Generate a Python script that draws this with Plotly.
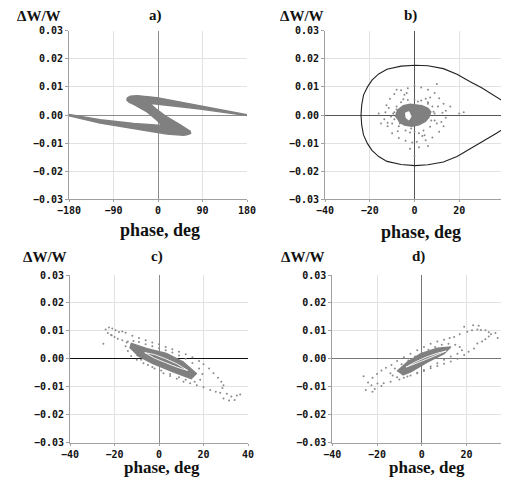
import plotly.graph_objects as go

# the page adds an 8 px body margin, so the figure is sized to the remaining window
OFF = 8
W, H = 509 - OFF, 477 - OFF

# ---------------- data ----------------
# panel a: S-shaped dense band (outline), phase in deg, dW/W
a_band_phase = [-180, -117, -49, 0, 8, -2, -22, -49, -58, -63, -62, -56, -42, -2, 92, 180,
                180, 85, -9, -16, -5, 18, 45, 58, 65, 66, 60, 52, 18, -16, -117, -180]
a_band_dw = [0.0002, -0.0017, -0.0030, -0.0036, -0.0037, -0.0019, 0.0011, 0.0038,
             0.0045, 0.0053, 0.0061, 0.0067, 0.0069, 0.0062, 0.0030, 0.0001, -0.0002,
             0.0021, 0.0040, 0.0040, 0.0023, -0.0007, -0.0035, -0.0048, -0.0058,
             -0.0065, -0.0070, -0.0072, -0.0068, -0.0058, -0.0029, -0.0003]

# panel b: separatrix
b_sep_phase = [40.5, 37, 33.8, 30, 24.9, 19, 12.9, 6, 0.3, -6, -12.3, -16, -19, -21,
               -22.8, -23.6, -23.9, -23.6, -22.8, -21, -19, -16, -12.3, -6, 0.3, 6,
               12.9, 19, 24.9, 30, 33.8, 37, 40.5]
b_sep_dw = [0.0045, 0.0063, 0.0080, 0.0097, 0.0118, 0.0145, 0.0165, 0.0175, 0.0177,
            0.0174, 0.0163, 0.0146, 0.0124, 0.0100, 0.0071, 0.0035, 0.0, -0.0035,
            -0.0071, -0.0102, -0.0126, -0.0148, -0.0165, -0.0176, -0.0180, -0.0177,
            -0.0167, -0.0148, -0.0120, -0.0097, -0.0079, -0.0063, -0.0045]
# panel b: dense core outline and white hole
b_core_phase = [-8.6, -7.5, -5, -1.9, 3.3, 6, 7.3, 6.5, 4.8, 2, -1.2, -4.5, -7.1]
b_core_dw = [-0.0006, 0.0018, 0.0033, 0.0038, 0.0033, 0.0024, 0.0011, -0.0008,
             -0.0023, -0.0035, -0.0040, -0.0036, -0.0023]
b_hole_phase = [-4, -2.5, -1.5, -2.5, -3.8, -4]
b_hole_dw = [0.0008, 0.0012, -0.0005, -0.0018, -0.0010, 0.0008]
# panel b: sparse particles
b_pts_phase = [0, 3, -3, 6, -6, 9, -9, 11, -11, 13, -12.5, 14, -13, 14, -13.5, 13, -12,
               11, -10, 8, -7, 5, -4, 1, -1, 2, -2, 6, 0, 20, 22, -16, 10, -8, 16, -15,
               0, 3, -3, 6, -6, 8, -8, 9, -9, 9, -9, 7, -7, 4, -4, 0, 2, -2, 10, -10, 5, -5,
               -9.5, 8.5, -6.5, 7.5, -8, 6, 1.5, -1.5,
               -10.5, 10.5, -11.5, 12, -7.5, 7, -4.5, 4.5, 12.5, -12, 3.5, -3.5]
b_pts_dw = [0.0105, 0.0098, 0.0095, 0.0090, 0.0088, 0.0078, 0.0075, 0.0060, 0.0058,
            0.0040, 0.0035, 0.0015, 0.0010, -0.0010, -0.0015, -0.0040, -0.0040, -0.0060,
            -0.0065, -0.0080, -0.0082, -0.0090, -0.0092, -0.0095, -0.0098, -0.0115,
            -0.0120, -0.0110, -0.0145, 0.0005, 0.0010, 0.0005, 0.0110, 0.0090, 0.0030,
            -0.0030, 0.0055, 0.0052, 0.0053, 0.0045, 0.0045, 0.0030, 0.0030, 0.0005,
            0.0010, -0.0020, -0.0015, -0.0042, -0.0040, -0.0055, -0.0055, -0.0060,
            -0.0065, -0.0062, -0.0030, -0.0030, 0.0058, 0.0056,
            0.0005, 0.0012, -0.0030, -0.0020, 0.0020, 0.0040, 0.0048, -0.0048,
            -0.0005, 0.0030, 0.0025, -0.0025, -0.0058, 0.0062, 0.0072, -0.0072,
            0.0008, -0.0028, -0.0075, 0.0078]

# panel c: dense core, inner white loop, sparse particles
c_core_phase = [-13.1, -12.4, -5.7, 3.3, 10.8, 16.8, 14.5, 6.3, -2.7, -10.1]
c_core_dw = [0.0037, 0.0055, 0.0037, 0.0019, -0.0011, -0.0053, -0.0071, -0.0047,
             -0.0017, 0.0013]
c_hole_phase = [-6.4, -2, 3, 8, 12.9, 8, 3, -2, -6.4]
c_hole_dw = [0.0022, 0.0015, 0.0, -0.0018, -0.0042, -0.0030, -0.0014, 0.0002, 0.0022]
c_pts_phase = [-24, -22.5, -21, -19.5, -18, -16.5, -15, -23, -21.5, -20, -18.5, -16.5,
               -14.5, -12.5, -11, -12, -9, -6, -3, 0, 3, 6, 9, 12, 15, 18, 20, 22.5, 24.5,
               26.5, 28, 29, 28.5, -8, -5, -2, 2, 5, 8, 11, 14, 17, 20, 23, 25.5, 27.5,
               30.5, 32.5, 35, 36.5, 34, 31.5, 29, -14, -11.5, -9, -6, -3, 0, 3, 6, 9, 12,
               15, 18, 19.5, 18.5, 16, 12, 9, 5, 1, -3, -7, -10, -12.5, -14, -15, -25,
               -21.3]
c_pts_dw = [0.0105, 0.0112, 0.0108, 0.0102, 0.0096, 0.0098, 0.0093, 0.0092, 0.0085,
            0.0078, 0.0072, 0.0066, 0.0058, 0.0048, 0.0036, 0.0082, 0.0074, 0.0066,
            0.0058, 0.0052, 0.0042, 0.0034, 0.0025, 0.0016, 0.0005, -0.0008, -0.0020,
            -0.0035, -0.0052, -0.0068, -0.0082, -0.0095, -0.0105, -0.0004, -0.0022,
            -0.0035, -0.0052, -0.0062, -0.0072, -0.0082, -0.0088, -0.0095, -0.0102,
            -0.0112, -0.0118, -0.0122, -0.0125, -0.0135, -0.0132, -0.0128, -0.0148,
            -0.0150, -0.0142, 0.0062, 0.0064, 0.0060, 0.0052, 0.0045, 0.0038, 0.0030,
            0.0022, 0.0012, 0.0, -0.0015, -0.0035, -0.0055, -0.0075, -0.0082, -0.0075,
            -0.0066, -0.0055, -0.0042, -0.0030, -0.0016, -0.0004, 0.0010, 0.0028,
            0.0045, 0.0054, 0.0084]

# panel d: dense core, inner white loop, sparse particles
d_core_phase = [-11, -6.4, -0.4, 7, 13, 10, 2.5, -4.9, -8.6]
d_core_dw = [-0.0045, -0.0012, 0.0018, 0.0038, 0.0042, 0.0018, -0.0012, -0.0047, -0.0059]
d_hole_phase = [-7, -3, 2, 7, 11, 7, 2, -3, -7]
d_hole_dw = [-0.0030, -0.0012, 0.0006, 0.0020, 0.0028, 0.0014, -0.0002, -0.0018, -0.0030]
d_pts_phase = [-22, -20, -18, -16, -13.5, -11, -8, -5, -2, 1, 4, 7, 10, 12.5, 14.5, 17,
               20.4, 22.5, 24.9, 26.5, 28.5, 30, 31, 30, 28.5, 27, 24.9, 33, 36.8, 36.5,
               34, 23, 19, 25.5, -24, -22.5, -21, -19.8, -17, -13.9, -10, -6.4, -2, 1, 4,
               7, 10, 13, 16, 19, 21, 23.4, -26, -25, -22, -18, -14, -12, -9, -6, -3, 0,
               3, 6, 9, 12, 15, 17, 18, 16, 13, 10, 7, 4, 1, -2, -5, -8, -11, -13]
d_pts_dw = [-0.0068, -0.0055, -0.0042, -0.0032, -0.0022, -0.0008, 0.0005, 0.0018,
            0.0030, 0.0042, 0.0054, 0.0062, 0.0068, 0.0074, 0.0078, 0.0088, 0.0097,
            0.0102, 0.0105, 0.0103, 0.0102, 0.0095, 0.0088, 0.0080, 0.0070, 0.0062,
            0.0055, 0.0092, 0.0085, 0.0068, 0.0074, 0.0120, 0.0115, 0.0118, -0.0085,
            -0.0095, -0.0108, -0.0089, -0.0088, -0.0082, -0.0074, -0.0064, -0.0052,
            -0.0044, -0.0034, -0.0026, -0.0018, -0.0010, 0.0, 0.0013, 0.0025, 0.0037,
            -0.0063, -0.0112, -0.0118, -0.0098, -0.0052, -0.0035, -0.0020, -0.0006,
            0.0008, 0.0020, 0.0032, 0.0042, 0.0050, 0.0054, 0.0050, 0.0042, 0.0030,
            0.0018, 0.0008, -0.0004, -0.0016, -0.0028, -0.0040, -0.0050, -0.0060,
            -0.0068, -0.0066, -0.0060]

y_ticks = [-0.03, -0.02, -0.01, 0.0, 0.01, 0.02, 0.03]
y_ticktext = ["\u22120.03", "\u22120.02", "\u22120.01", "0.00", "0.01", "0.02", "0.03"]
xa_ticks = [-180, -90, 0, 90, 180]
xb_ticks = [-40, -20, 0, 20, 40]

# ---------------- figure ----------------
GRAY = "#808080"
fig = go.Figure()


def core(xs, ys, ax):
    fig.add_trace(go.Scatter(x=xs, y=ys, xaxis=ax[0], yaxis=ax[1], mode="lines",
                             fill="toself", fillcolor=GRAY, line=dict(width=1.4, color=GRAY),
                             hoverinfo="skip", showlegend=False))


def hole(xs, ys, ax, fill=False):
    fig.add_trace(go.Scatter(x=xs, y=ys, xaxis=ax[0], yaxis=ax[1], mode="lines",
                             fill="toself" if fill else None, fillcolor="white",
                             line=dict(width=0.9, color="white"),
                             hoverinfo="skip", showlegend=False))


def pts(xs, ys, ax):
    fig.add_trace(go.Scatter(x=xs, y=ys, xaxis=ax[0], yaxis=ax[1], mode="markers",
                             marker=dict(size=2, color="#8a8a8a", line=dict(width=0)),
                             hoverinfo="skip", showlegend=False))


core(a_band_phase, a_band_dw, ("x", "y"))

fig.add_trace(go.Scatter(x=b_sep_phase, y=b_sep_dw, xaxis="x2", yaxis="y2", mode="lines",
                         line=dict(width=1.1, color="#222222"), showlegend=False))
pts(b_pts_phase, b_pts_dw, ("x2", "y2"))
core(b_core_phase, b_core_dw, ("x2", "y2"))
hole(b_hole_phase, b_hole_dw, ("x2", "y2"), fill=True)

pts(c_pts_phase, c_pts_dw, ("x3", "y3"))
core(c_core_phase, c_core_dw, ("x3", "y3"))
hole(c_hole_phase, c_hole_dw, ("x3", "y3"))

pts(d_pts_phase, d_pts_dw, ("x4", "y4"))
core(d_core_phase, d_core_dw, ("x4", "y4"))
hole(d_hole_phase, d_hole_dw, ("x4", "y4"))

MONO = "DejaVu Sans Mono, Liberation Mono, monospace"
tickfont = dict(family=MONO, size=10, color="#111111")


def lbl(t):
    return "<b>" + t + "</b>"


def px_x(px):
    return (px - OFF) / W


def px_y(py):
    return 1 - (py - OFF) / H


def xax(domain, anchor, rng, ticks, zc):
    return dict(domain=domain, anchor=anchor, range=rng, tickvals=ticks,
                ticktext=[lbl(("\u2212" + str(-t)) if t < 0 else str(t)) for t in ticks],
                automargin=False,
                showgrid=True, gridcolor="#e2e2e2", gridwidth=1,
                zeroline=True, zerolinecolor=zc, zerolinewidth=1,
                showline=True, linecolor="#a0a0a0", linewidth=1,
                ticks="outside", ticklen=2, tickcolor="#a0a0a0",
                tickfont=tickfont, fixedrange=True)


def yax(domain, anchor, zc):
    return dict(domain=domain, anchor=anchor, range=[-0.03, 0.03], tickvals=y_ticks,
                ticktext=[lbl(t) for t in y_ticktext], automargin=False,
                showgrid=True, gridcolor="#e2e2e2", gridwidth=1,
                zeroline=True, zerolinecolor=zc, zerolinewidth=1,
                showline=True, linecolor="#a0a0a0", linewidth=1,
                ticks="outside", ticklen=3, tickcolor="#a0a0a0",
                tickfont=tickfont, fixedrange=True)


top_dom = [px_y(199.3), px_y(30.7)]
bot_dom = [px_y(442.5), px_y(275.0)]
d_right = -40 + (509 - 332.3) / 2.235

fig.update_layout(
    template="none",
    width=W, height=H, margin=dict(l=0, r=0, t=0, b=0, pad=0), autosize=False,
    paper_bgcolor="white", plot_bgcolor="white", showlegend=False,
    xaxis=xax([px_x(69), px_x(247)], "y", [-180, 180], xa_ticks, "#8c8c8c"),
    yaxis=yax(top_dom, "x", "#8c8c8c"),
    xaxis2=xax([px_x(325), px_x(504)], "y2", [-40, 40], xb_ticks, "#555555"),
    yaxis2=yax(top_dom, "x2", "#555555"),
    xaxis3=xax([px_x(70), px_x(248)], "y3", [-40, 40], xb_ticks, "#8c8c8c"),
    yaxis3=yax(bot_dom, "x3", "#111111"),
    xaxis4=xax([px_x(332.3), 1.0], "y4", [-40, d_right], xb_ticks, "#777777"),
    yaxis4=yax(bot_dom, "x4", "#777777"),
)

serif = "Liberation Serif, Times New Roman, serif"
labels = [
    ("\u0394W/W", 39, 16, 15), ("a)", 155, 16, 15), ("phase, deg", 159.5, 230, 18),
    ("\u0394W/W", 301.5, 16, 15), ("b)", 410, 16, 15), ("phase, deg", 421, 232, 18),
    ("\u0394W/W", 44.5, 257, 15), ("c)", 157, 257, 15), ("phase, deg", 161.7, 467, 17),
    ("\u0394W/W", 303, 257, 15), ("d)", 418, 257, 15), ("phase, deg", 426.7, 467, 17),
]
for text, px, py, size in labels:
    fig.add_annotation(text="<b>" + text + "</b>", xref="paper", yref="paper",
                       x=px_x(px), y=px_y(py),
                       xanchor="center", yanchor="middle", showarrow=False,
                       font=dict(family=serif, size=size, color="#111111"))
# the clipped "40" tick label at the right edge of panel d
fig.add_annotation(text=lbl("40"), xref="paper", yref="paper", x=px_x(503.5), y=px_y(449),
                   xanchor="left", yanchor="middle", showarrow=False,
                   font=tickfont)

fig.write_html("out.html")
